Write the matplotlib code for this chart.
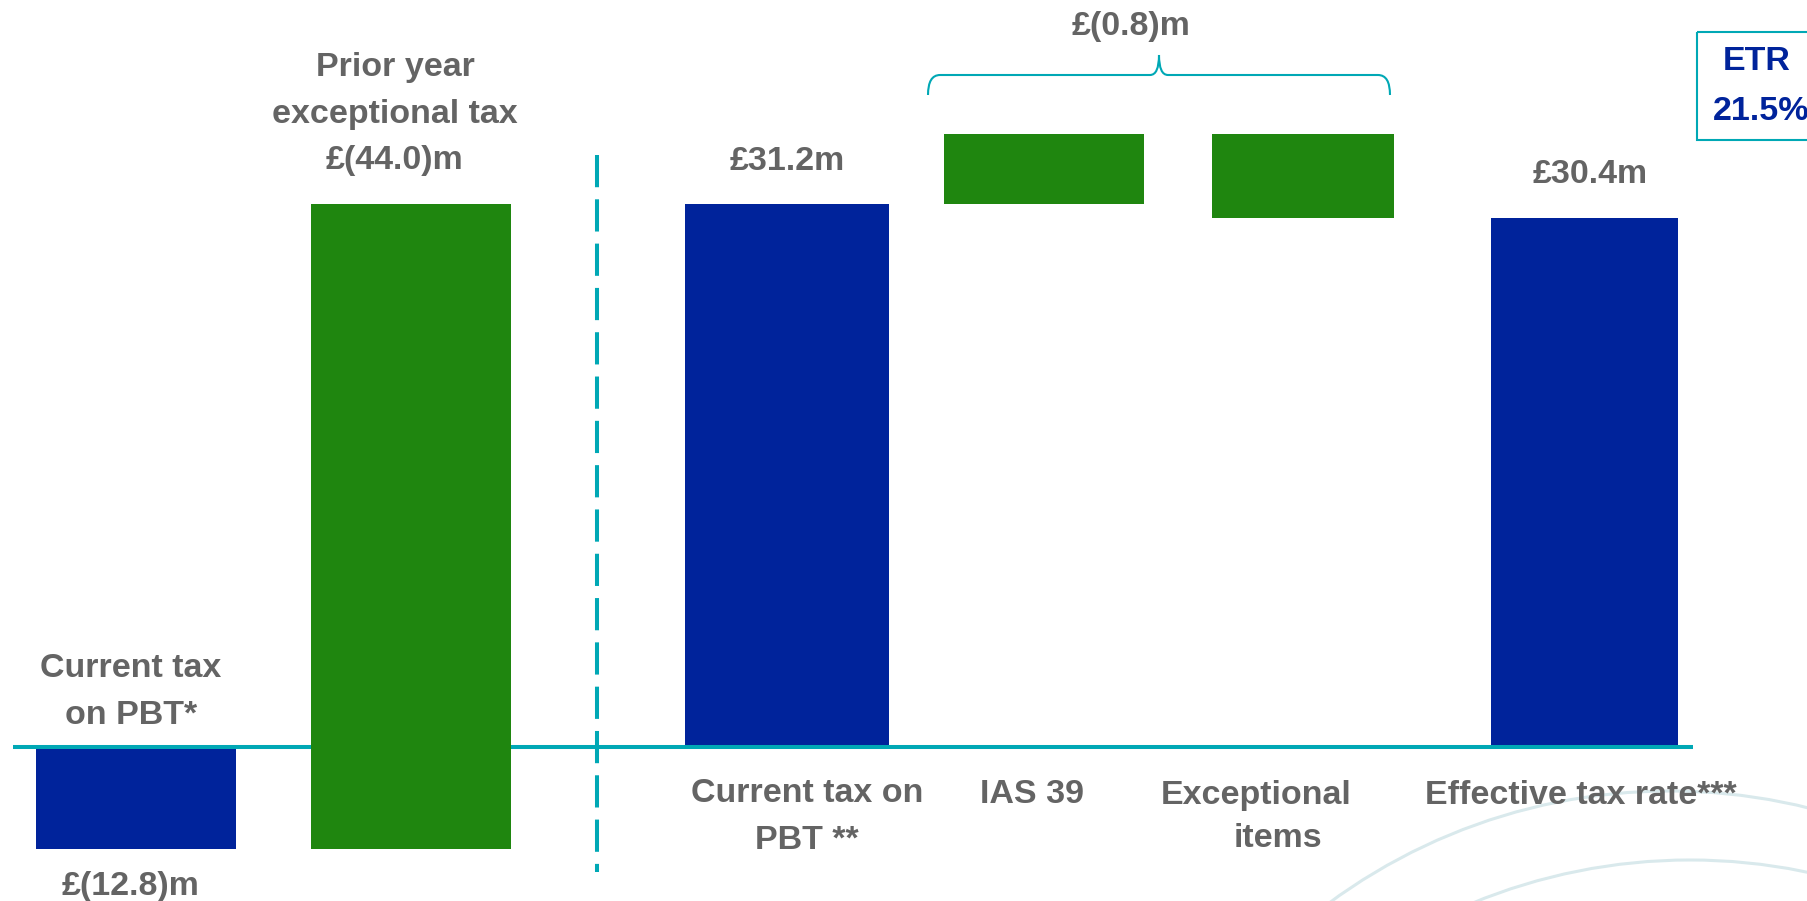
import matplotlib.pyplot as plt
import numpy as np
from matplotlib.patches import Rectangle, Circle, PathPatch
from matplotlib.path import Path

# Tax bridge, £m
categories = ['Current tax\non PBT*', 'Prior year\nexceptional tax', 'Current tax on\nPBT **',
              'IAS 39', 'Exceptional\nitems', 'Effective tax rate***']
values = [-12.8, 44.0, 31.2, 4.0, -4.8, 30.4]
kinds = ['total', 'step', 'total', 'step', 'step', 'total']
value_labels = ['£(12.8)m', '£(44.0)m', '£31.2m', '', '', '£30.4m']
etr = '21.5%'

BLUE = '#00239B'
GREEN = '#1F860F'
TEAL = '#00A8B5'
GREY = '#646464'
ARC = '#D9E9EC'
FS = 24.5

plt.rcParams['font.family'] = ['Liberation Sans', 'DejaVu Sans']
plt.rcParams['font.weight'] = 'bold'

# slot positions / widths of the bars
x_pos = [0, 1, 2.367, 3.302, 4.244, 5.269]
widths = [0.73, 0.73, 0.74, 0.73, 0.66, 0.68]

# waterfall: totals start at zero, steps start where the previous bar ended
bottoms = []
running = 0.0
for v, k in zip(values, kinds):
    if k == 'total':
        bottoms.append(0.0)
        running = v
    else:
        bottoms.append(running)
        running += v

# negative side of the axis is squashed
NEG = 0.458
def fwd(v):
    v = np.asarray(v, dtype=float)
    return np.where(v < 0, v * NEG, v)

def inv(u):
    u = np.asarray(u, dtype=float)
    return np.where(u < 0, u / NEG, u)

fig = plt.figure(figsize=(18.08, 9.01), dpi=100)

# pixel-space layer for the decoration
deco = fig.add_axes([0, 0, 1, 1], zorder=0)
deco.set_xlim(0, 1808)
deco.set_ylim(901, 0)
deco.axis('off')

ax = fig.add_axes([0, 0, 1, 1], zorder=1)
ax.patch.set_visible(False)
ax.set_yscale('function', functions=(fwd, inv))
ax.set_xlim(-0.4945, 6.08)
ax.set_ylim(-19.33, 42.93)
ax.axis('off')

for i in range(len(values)):
    total = kinds[i] == 'total'
    ax.bar(x_pos[i], values[i], width=widths[i], bottom=bottoms[i],
           color=BLUE if total else GREEN, zorder=1 if total else 3)

ax.plot([-0.447, 5.662], [0, 0], color=TEAL, lw=2.9, zorder=2, solid_capstyle='butt')


def note(text, x, y, dx, dy, color=GREY):
    ax.annotate(text, (x, y), xytext=(dx, dy), textcoords='offset pixels',
                ha='center', va='center', fontsize=FS, color=color,
                fontweight='bold', linespacing=1.65, zorder=5)


tops = [b + v for b, v in zip(bottoms, values)]

# left section
note(categories[0], x_pos[0], 0, -5, 55)
note(value_labels[0], x_pos[0], values[0], -5, -38)
note(categories[1] + '\n' + value_labels[1], x_pos[1], tops[1], -16, 90)

# right section
note(value_labels[2], x_pos[2], tops[2], 0, 43)
note(categories[2], x_pos[2], 0, 20, -70)
note(categories[3], x_pos[3], 0, -12, -48)
line1, line2 = categories[4].split('\n')
note(line1, x_pos[4], 0, -47, -49)
note(line2, x_pos[4], 0, -25, -92)
note(categories[5], x_pos[5], 0, -4, -49)
note(value_labels[5], x_pos[5], tops[5], 5, 44)

# bracket over the two adjustments
step_sum = values[3] + values[4]
verts = [(928, 95), (928, 75), (940, 75), (1150, 75), (1159, 75), (1159, 55),
         (1159, 75), (1168, 75), (1378, 75), (1390, 75), (1390, 95)]
codes = [Path.MOVETO, Path.CURVE3, Path.CURVE3, Path.LINETO, Path.CURVE3, Path.CURVE3,
         Path.CURVE3, Path.CURVE3, Path.LINETO, Path.CURVE3, Path.CURVE3]
deco.add_patch(PathPatch(Path(verts, codes), fill=False, ec=TEAL, lw=1.5))
deco.text(1131, 27, '£({:.1f})m'.format(abs(step_sum)), ha='center', va='center',
          fontsize=FS, color=GREY, fontweight='bold')

# divider between prior year and current year
deco.plot([597, 597], [155, 872], color=TEAL, lw=2.9, dashes=(8, 3))

# ETR box
deco.add_patch(Rectangle((1697, 32), 200, 108, fill=False, ec=TEAL, lw=1.5))
deco.text(1757, 62, 'ETR', ha='center', va='center', fontsize=FS, color=BLUE, fontweight='bold')
deco.text(1761, 112, etr, ha='center', va='center', fontsize=FS, color=BLUE, fontweight='bold')

# faint background arcs
deco.add_patch(Circle((1670, 1366), 575, fill=False, ec=ARC, lw=2.2))
deco.add_patch(Circle((1690, 1431), 571, fill=False, ec=ARC, lw=2.2))

fig.savefig('out.png', dpi=100)
